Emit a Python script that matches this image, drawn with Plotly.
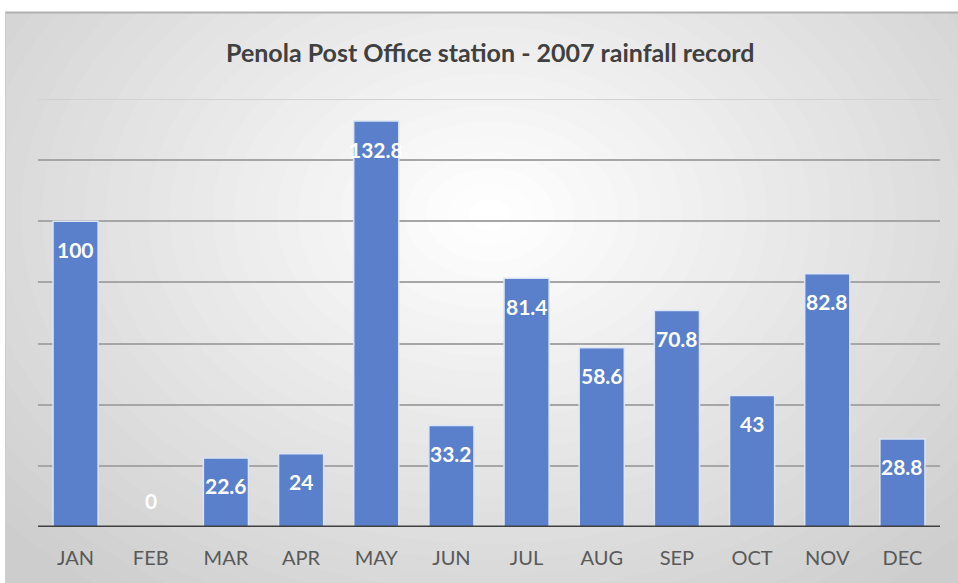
import plotly.graph_objects as go

months = ["JAN", "FEB", "MAR", "APR", "MAY", "JUN", "JUL", "AUG", "SEP", "OCT", "NOV", "DEC"]
rainfall = [100, 0, 22.6, 24, 132.8, 33.2, 81.4, 58.6, 70.8, 43, 82.8, 28.8]
title_text = "Penola Post Office station - 2007 rainfall record"
y_max = 140

W, H = 958, 583
ML, MR, MT, MB = 38, 18, 99, 56
PW, PH = W - ML - MR, H - MT - MB

def px(x):
    return (x - ML) / PW

def py(y):
    return (H - MB - y) / PH

shapes = []
# frame background (gradient approximated by stepped ellipses)
shapes.append(dict(type="rect", xref="paper", yref="paper", x0=px(5), x1=px(958), y0=py(583), y1=py(12),
                   fillcolor="#cdcdcd", line=dict(width=0), layer="below"))
N = 30
cx, cy = 490, 215
rx0, ry0 = 640, 470
for i in range(N):
    f = 1 - i / N
    g = int(round(0xcd + (0xff - 0xcd) * (i + 1) / N))
    col = "#%02x%02x%02x" % (g, g, g)
    shapes.append(dict(type="circle", xref="paper", yref="paper",
                       x0=px(cx - rx0 * f), x1=px(cx + rx0 * f),
                       y0=py(cy + ry0 * f), y1=py(cy - ry0 * f),
                       fillcolor=col, line=dict(width=0), layer="below"))
# white outside frame
shapes.append(dict(type="rect", xref="paper", yref="paper", x0=px(0), x1=px(958), y0=py(12), y1=py(0),
                   fillcolor="white", line=dict(width=0), layer="below"))
shapes.append(dict(type="rect", xref="paper", yref="paper", x0=px(0), x1=px(5), y0=py(583), y1=py(0),
                   fillcolor="white", line=dict(width=0), layer="below"))
shapes.append(dict(type="line", xref="paper", yref="paper", x0=px(5), x1=px(958), y0=py(12.5), y1=py(12.5),
                   line=dict(color="#b0b0b0", width=2), layer="below"))
shapes.append(dict(type="line", xref="paper", yref="paper", x0=px(5.5), x1=px(5.5), y0=py(583), y1=py(12),
                   line=dict(color="#d0d0d0", width=1), layer="below"))
# top gridline (lighter)
shapes.append(dict(type="line", xref="paper", yref="y", x0=0, x1=1, y0=y_max, y1=y_max,
                   line=dict(color="#d2d2d2", width=2), layer="below"))
# baseline on top of bars
shapes.append(dict(type="line", xref="paper", yref="y", x0=0, x1=1, y0=0, y1=0,
                   line=dict(color="#404040", width=3), layer="above"))

fig = go.Figure()
fig.add_trace(go.Bar(
    x=months, y=rainfall,
    marker=dict(color="#5a7fcb", line=dict(color="#dce5f5", width=1.5)),
    hoverinfo="x+y",
))

annotations = []
for m, v in zip(months, rainfall):
    annotations.append(dict(x=m, y=v, xref="x", yref="y", text=f"<b>{v:g}</b>",
                            showarrow=False, yanchor="middle",
                            yshift=-28 if v > 0 else 27,
                            font=dict(family="Lato", size=21, color="white")))
annotations.append(dict(x=px(490), y=py(52), xref="paper", yref="paper", text=title_text,
                        showarrow=False, xanchor="center", yanchor="middle",
                        font=dict(family="Lato", size=25, color="#404040", weight="bold")))

fig.update_layout(
    width=W, height=H,
    margin=dict(l=ML, r=MR, t=MT, b=MB),
    paper_bgcolor="white",
    plot_bgcolor="rgba(0,0,0,0)",
    showlegend=False,
    bargap=0.4,
    shapes=shapes,
    annotations=annotations,
    xaxis=dict(showgrid=False, tickfont=dict(family="Lato", size=20, color="#595959"),
               ticks="", showline=False, zeroline=False, fixedrange=True, ticklabelstandoff=17),
    yaxis=dict(range=[0, y_max], tickvals=[20, 40, 60, 80, 100, 120], showticklabels=False,
               gridcolor="#a6a6a6", gridwidth=1.5, zeroline=False,
               showline=False, fixedrange=True),
)

fig.write_html("out.html")
